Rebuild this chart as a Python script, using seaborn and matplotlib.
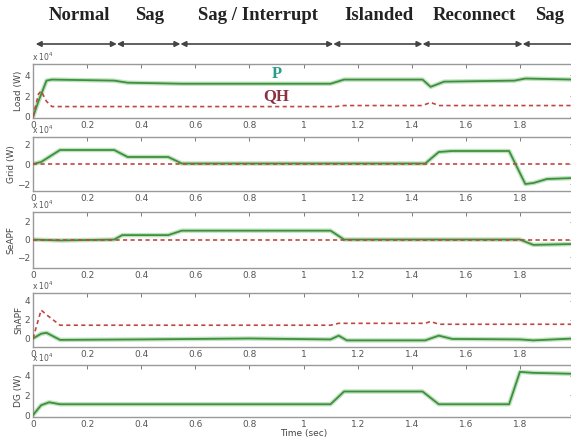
import matplotlib
matplotlib.use("Agg")
import matplotlib.pyplot as plt
import seaborn as sns
import numpy as np

sns.set_theme(style="white")
plt.rcParams['font.family'] = ['DejaVu Sans']

# ---- data (values in units of 1e4 W) ----
load_t_p = [0, 0.02, 0.05, 0.07, 0.3, 0.35, 0.55, 1.1, 1.15, 1.44, 1.47, 1.52, 1.78, 1.82, 2.0]
load_p   = [0, 1.5, 3.5, 3.6, 3.5, 3.3, 3.2, 3.2, 3.6, 3.6, 2.9, 3.4, 3.5, 3.7, 3.6]
load_t_q = [0, 0.02, 0.03, 0.05, 0.07, 1.12, 1.15, 1.44, 1.47, 1.5, 2.0]
load_q   = [0, 2.2, 2.5, 1.5, 1.0, 1.0, 1.1, 1.1, 1.4, 1.1, 1.1]

grid_t_p = [0, 0.03, 0.1, 0.3, 0.35, 0.5, 0.55, 1.45, 1.5, 1.55, 1.76, 1.82, 1.85, 1.9, 2.0]
grid_p   = [0, 0.2, 1.4, 1.4, 0.7, 0.7, 0.05, 0.05, 1.2, 1.3, 1.3, -2.0, -1.9, -1.5, -1.4]
grid_t_q = [0, 2.0]
grid_q   = [0, 0]

se_t_p = [0, 0.1, 0.3, 0.33, 0.5, 0.55, 1.1, 1.15, 1.8, 1.85, 2.0]
se_p   = [0, -0.1, 0, 0.5, 0.5, 1.0, 1.0, 0, 0, -0.6, -0.5]
se_t_q = [0, 2.0]
se_q   = [0, 0]

sh_t_p = [0, 0.03, 0.05, 0.1, 0.4, 0.8, 1.1, 1.13, 1.16, 1.45, 1.5, 1.55, 1.8, 1.85, 2.0]
sh_p   = [0, 0.5, 0.6, -0.15, -0.1, 0.0, -0.1, 0.3, -0.2, -0.2, 0.3, -0.05, -0.1, -0.2, 0.0]
sh_t_q = [0, 0.03, 0.05, 0.1, 1.1, 1.13, 1.45, 1.47, 1.5, 2.0]
sh_q   = [0, 3.0, 2.5, 1.4, 1.4, 1.6, 1.6, 1.8, 1.5, 1.5]

dg_t_p = [0, 0.03, 0.06, 0.1, 1.1, 1.15, 1.44, 1.5, 1.76, 1.8, 1.85, 2.0]
dg_p   = [0, 1.0, 1.3, 1.1, 1.1, 2.4, 2.4, 1.1, 1.1, 4.4, 4.3, 4.2]

panel_labels = ["Load (W)", "Grid (W)", "SeAPF", "ShAPF", "DG (W)"]
panel_ylims = [(-0.1, 5.1), (-2.7, 2.7), (-3.2, 3.1), (-0.9, 4.8), (-0.2, 5.1)]
panel_yticks = [[0, 2, 4], [-2, 0, 2], [-2, 0, 2], [0, 2, 4], [0, 2, 4]]
xticks = [0, 0.2, 0.4, 0.6, 0.8, 1, 1.2, 1.4, 1.6, 1.8, 2]
xticklabels = ["0", "0.2", "0.4", "0.6", "0.8", "1", "1.2", "1.4", "1.6", "1.8", "2"]

phase_names = ["Normal", "Sag", "Sag / Interrupt", "Islanded", "Reconnect", "Sag"]
phase_centers = [0.17, 0.43, 0.83, 1.28, 1.63, 1.91]
phase_bounds = [0.01, 0.31, 0.545, 1.11, 1.44, 1.81, 2.02]

P_COLOR = "#3f8f3f"
Q_COLOR = "#c0473f"

W, H = 571, 441
fig = plt.figure(figsize=(W / 100, H / 100), dpi=100)
left_px, right_px = 33, 574
boxes = [(64, 118), (137, 191), (212, 268), (293, 347), (365, 417)]
axes = []
for (top, bot) in boxes:
    ax = fig.add_axes([left_px / W, 1 - bot / H, (right_px - left_px) / W, (bot - top) / H])
    axes.append(ax)

series = [
    [(load_t_p, load_p, 'P'), (load_t_q, load_q, 'Q')],
    [(grid_t_p, grid_p, 'P'), (grid_t_q, grid_q, 'Q')],
    [(se_t_p, se_p, 'P'), (se_t_q, se_q, 'Q')],
    [(sh_t_p, sh_p, 'P'), (sh_t_q, sh_q, 'Q')],
    [(dg_t_p, dg_p, 'P')],
]

for i, ax in enumerate(axes):
    for t, v, kind in series[i]:
        if kind == 'P':
            sns.lineplot(x=t, y=v, ax=ax, color="#bfe3bf", linewidth=3.2, zorder=2)
            sns.lineplot(x=t, y=v, ax=ax, color=P_COLOR, linewidth=1.3, zorder=3)
        else:
            sns.lineplot(x=t, y=v, ax=ax, color=Q_COLOR, linewidth=1.2,
                         linestyle=(0, (2.5, 2)), zorder=4)
    ax.set_xlim(0, 2)
    ax.set_ylim(*panel_ylims[i])
    ax.set_xticks(xticks)
    ax.set_xticklabels(xticklabels)
    ax.set_yticks(panel_yticks[i])
    ax.tick_params(axis='both', direction='in', length=3, width=0.6, labelsize=6.5,
                   labelcolor="#555555", color="#666666", top=True, right=True, pad=2)
    for s in ax.spines.values():
        s.set_color("#999999")
        s.set_linewidth(1.0)
    ax.set_ylabel(panel_labels[i], fontsize=6.5, color="#444444", labelpad=1)
    ax.text(-0.002, 1.02, r"x $10^4$", transform=ax.transAxes, fontsize=5.5,
            color="#555555", ha='left', va='bottom')

axes[-1].set_xlabel("Time (sec)", fontsize=6.5, color="#444444", labelpad=0)

# curve labels
axes[0].text(0.9, 4.1, "P", fontsize=12, fontweight='bold', family='Liberation Serif',
             color="#2a9d8a", ha='center', va='center')
axes[0].text(0.9, 2.0, "QH", fontsize=12, fontweight='bold', family='Liberation Serif',
             color="#8b3040", ha='center', va='center')

# phase headers
ax0 = axes[0]
y_arrow = (118 - 44) / (118 - 64)
y_text = (118 - 16) / (118 - 64)
for a, b in zip(phase_bounds[:-1], phase_bounds[1:]):
    ax0.annotate("", xy=(b, y_arrow), xytext=(a, y_arrow),
                 xycoords=('data', 'axes fraction'), textcoords=('data', 'axes fraction'),
                 arrowprops=dict(arrowstyle='<|-|>', color="#444444", lw=1.2,
                                 mutation_scale=8, shrinkA=0, shrinkB=0),
                 annotation_clip=False)
for name, c in zip(phase_names, phase_centers):
    ax0.text(c, y_text, name, transform=ax0.get_xaxis_transform(), fontsize=13.5,
             fontweight='bold', family='Liberation Serif', color="#222222",
             ha='center', va='center', clip_on=False)

fig.savefig("out.png", dpi=100)
